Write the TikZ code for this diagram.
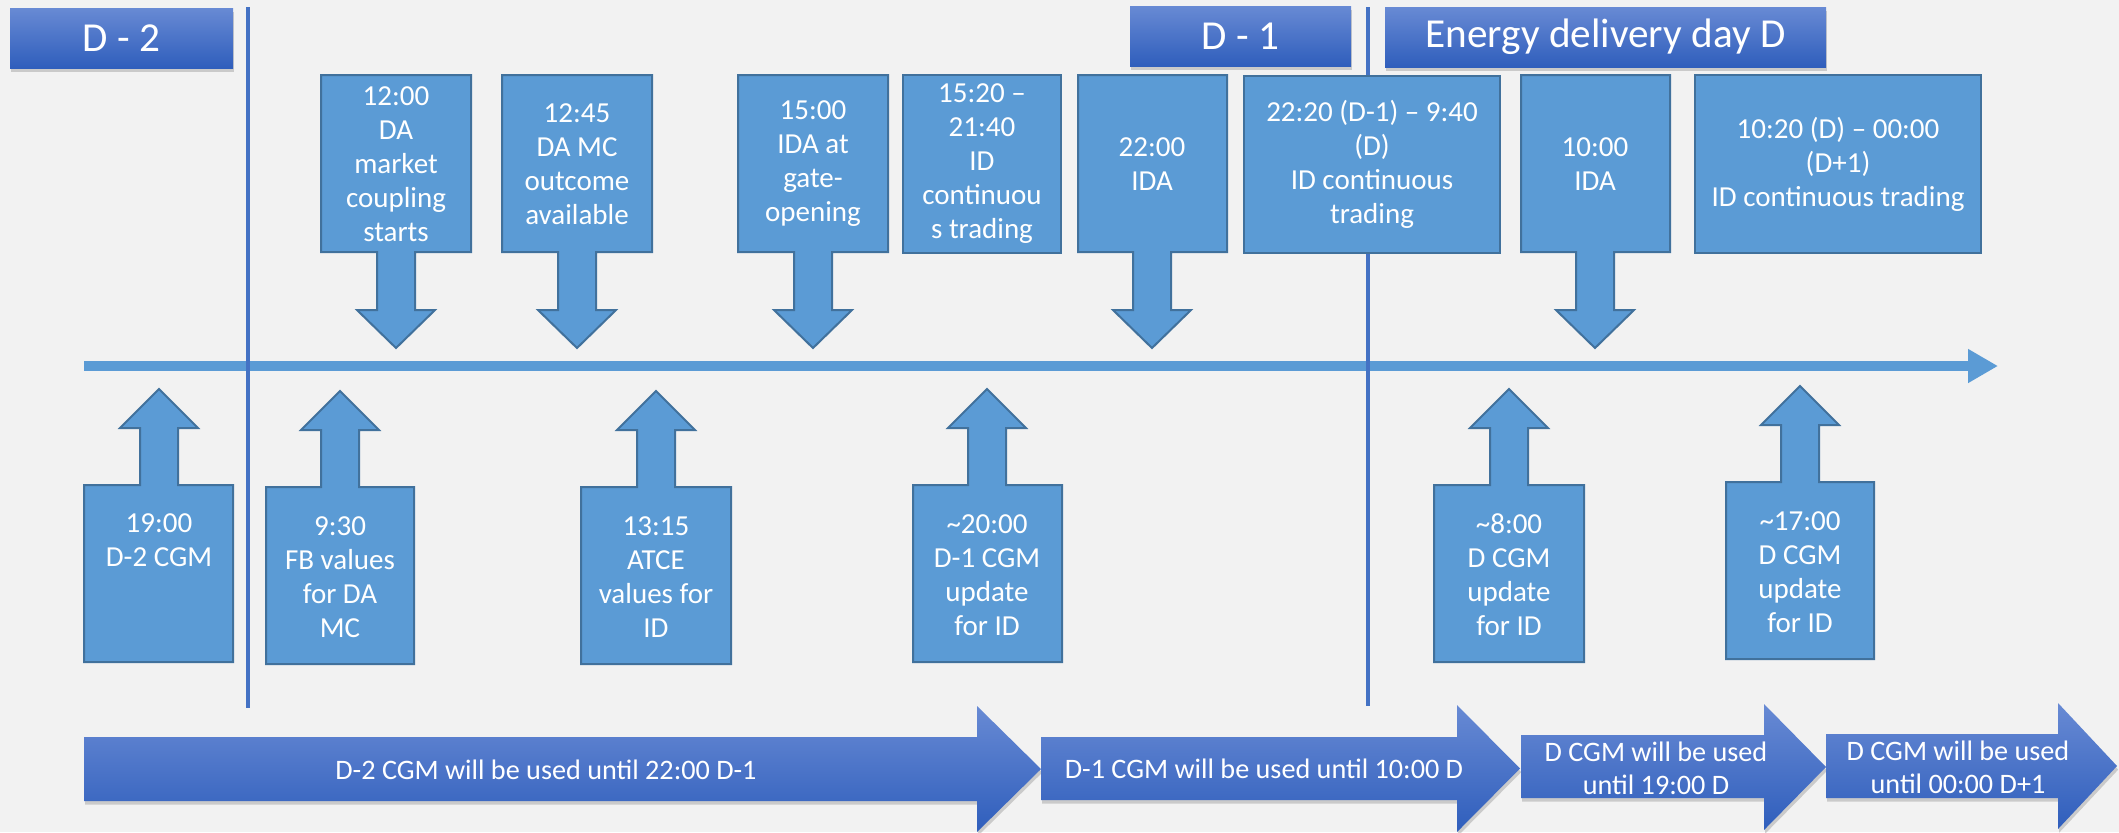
\documentclass[tikz,border=0pt]{standalone}
\usepackage{fontspec}
\setmainfont{Carlito}
\usetikzlibrary{shadows,arrows.meta}
\definecolor{bgc}{RGB}{242,242,242}
\definecolor{callfill}{RGB}{91,155,213}
\definecolor{callline}{RGB}{65,113,156}
\definecolor{vline}{RGB}{68,114,196}
\definecolor{hdrtop}{RGB}{104,138,212}
\definecolor{hdrbot}{RGB}{47,94,188}
% down callout: name, x1, x2, cx, text
\newcommand{\dcall}[5]{%
  \path[calloutshape] (#2,75) -- (#3,75) -- (#3,252) -- (#4+19,252) -- (#4+19,310) -- (#4+39,310) -- (#4,348) -- (#4-39,310) -- (#4-19,310) -- (#4-19,252) -- (#2,252) -- cycle;
  \node[ctext] (#1) at (#4,164) {#5};}
% up callout: name, x1, x2, cx, top, text y, text
\newcommand{\ucall}[7]{%
  \path[calloutshape] (#2,#5) -- (#4-19,#5) -- (#4-19,#5-57) -- (#4-39,#5-57) -- (#4,#5-96) -- (#4+39,#5-57) -- (#4+19,#5-57) -- (#4+19,#5) -- (#3,#5) -- (#3,#5+177) -- (#2,#5+177) -- cycle;
  \node[ctext] (#1) at (#4,#6) {#7};}
\begin{document}
\begin{tikzpicture}[x=0.5pt,y=-0.5pt,
  calloutshape/.style={fill=callfill,draw=callline,line width=1pt,line join=miter},
  ctext/.style={text=white,font=\fontsize{14.5}{17}\selectfont,align=center,inner sep=0pt},
  btext/.style={text=white,font=\fontsize{14.1}{16.6}\selectfont,align=center,inner sep=0pt},
  boxnode/.style={fill=callfill,draw=callline,line width=1pt,text=white,font=\fontsize{14.5}{17}\selectfont,align=center,inner sep=0pt},
  hdr/.style={top color=hdrtop,bottom color=hdrbot,draw=none,text=white,font=\fontsize{20.6}{24}\selectfont,inner sep=0pt,minimum height=30pt,drop shadow={shadow xshift=0.6pt,shadow yshift=-1.8pt,opacity=0.35}},
  barrowshape/.style={top color=hdrtop,bottom color=hdrbot,draw=none,drop shadow={shadow xshift=0.6pt,shadow yshift=-1.8pt,opacity=0.35}},
  vsep/.style={draw=vline,line width=1.6pt},
  timeline/.style={draw=callfill,line width=5pt,-{Triangle[length=15pt,width=16pt]}}]
\fill[bgc] (0,0) rectangle (2119,832);
\useasboundingbox (0,0) rectangle (2119,832);

% timeline
\coordinate (tls) at (84,366);
\coordinate (tle) at (1998,366);
\draw[timeline] (tls) -- (tle);

% day separators
\coordinate (v1t) at (248,7);
\coordinate (v1b) at (248,708);
\coordinate (v2t) at (1368,7);
\coordinate (v2b) at (1368,706);
\draw[vsep] (v1t) -- (v1b);
\draw[vsep] (v2t) -- (v2b);

% headers
\node[hdr,minimum width=111.5pt] (hd2) at (121.5,38) {D - 2};
\node[hdr,minimum width=110.5pt] (hd1) at (1240.5,36) {D - 1};
\node[hdr,minimum width=220.5pt] (hdd) at (1605.5,37) {Energy delivery day D};

% upper callouts
\dcall{c1200}{321}{471}{396}{12:00\\DA\\market\\coupling\\starts}
\dcall{c1245}{502}{652}{577}{12:45\\DA MC\\outcome\\available}
\dcall{c1500}{738}{888}{813}{15:00\\IDA at\\gate-\\opening}
\node[boxnode,minimum width=79pt,minimum height=89pt] (c1520) at (982,164) {15:20 –\\21:40\\ID\\continuou\\s trading};
\dcall{c2200}{1078}{1227}{1152}{22:00\\IDA}
\node[boxnode,minimum width=128pt,minimum height=88.5pt] (c2220) at (1372,164.5) {22:20 (D-1) – 9:40\\(D)\\ID continuous\\trading};
\dcall{c1000}{1521}{1670}{1595}{10:00\\IDA}
\node[boxnode,minimum width=143pt,minimum height=89pt] (c1020) at (1838,164) {10:20 (D) – 00:00\\(D+1)\\ID continuous trading};

% lower callouts
\ucall{u1900}{84}{233}{159}{485}{540}{19:00\\D-2 CGM}
\ucall{u0930}{266}{414}{340}{487}{577}{9:30\\FB values\\for DA\\MC}
\ucall{u1315}{581}{731}{656}{487}{577}{13:15\\ATCE\\values for\\ID}
\ucall{u2000}{913}{1062}{987}{485}{575}{\textasciitilde{}20:00\\D-1 CGM\\update\\for ID}
\ucall{u0800}{1434}{1584}{1509}{485}{575}{\textasciitilde{}8:00\\D CGM\\update\\for ID}
\ucall{u1700}{1726}{1874}{1800}{482}{572}{\textasciitilde{}17:00\\D CGM\\update\\for ID}

% CGM validity arrows
\path[barrowshape] (84,737) -- (977,737) -- (977,706) -- (1041,769) -- (977,832) -- (977,801) -- (84,801) -- cycle;
\path[barrowshape] (1041,737) -- (1457,737) -- (1457,705) -- (1520,768.5) -- (1457,832) -- (1457,800) -- (1041,800) -- cycle;
\path[barrowshape] (1521,735) -- (1764,735) -- (1764,704) -- (1826,767) -- (1764,830) -- (1764,798) -- (1521,798) -- cycle;
\path[barrowshape] (1826,734) -- (2058,734) -- (2058,703) -- (2117,766) -- (2058,829) -- (2058,798) -- (1826,798) -- cycle;
\node[btext] (b1) at (546,770) {D-2 CGM will be used until 22:00 D-1};
\node[btext] (b2) at (1264,769) {D-1 CGM will be used until 10:00 D};
\node[btext] (b3) at (1656,768) {D CGM will be used\\until 19:00 D};
\node[btext] (b4) at (1958,767) {D CGM will be used\\until 00:00 D+1};
\end{tikzpicture}
\end{document}
